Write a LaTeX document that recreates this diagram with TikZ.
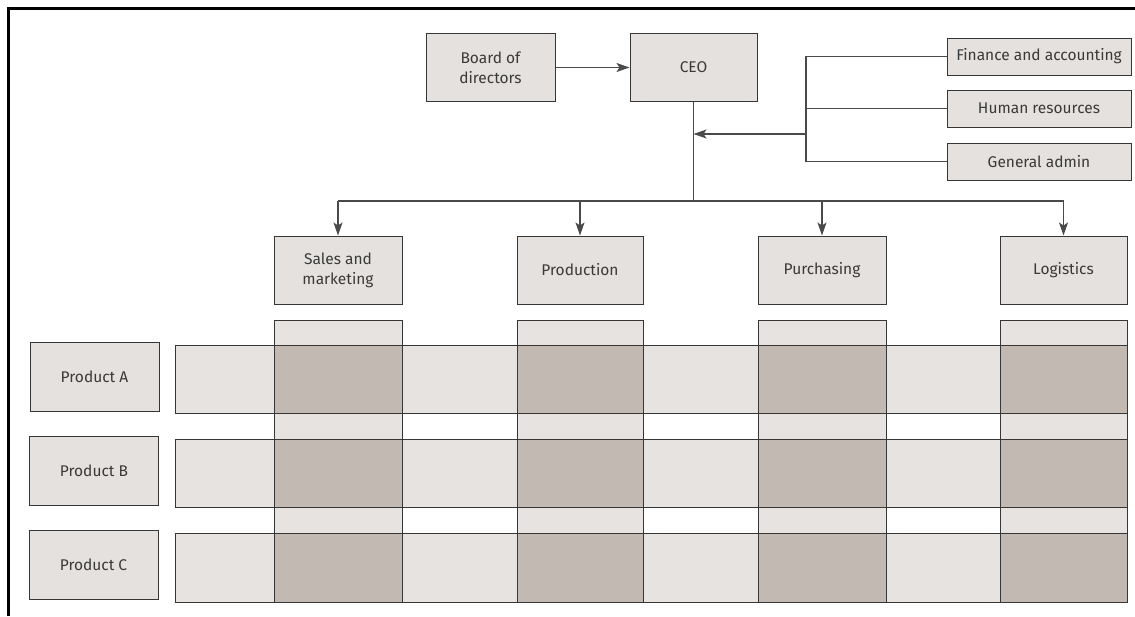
\documentclass[tikz,border=0pt]{standalone}
\usepackage{fontspec}
\setmainfont{Fira Sans}
\usetikzlibrary{arrows.meta}
\definecolor{boxfill}{HTML}{E4E1DE}
\definecolor{darkcell}{HTML}{C2B9B2}
\definecolor{lightcell}{HTML}{E6E3E0}
\definecolor{linec}{HTML}{363636}
\definecolor{txt}{HTML}{3A3A3A}
\definecolor{arrowc}{HTML}{4A4A4A}
\begin{document}
\begin{tikzpicture}[x=1pt,y=-1pt,
  box/.style={draw=linec, fill=boxfill, line width=1pt, inner sep=0pt,
    font=\fontsize{15.5}{20}\selectfont, text=txt, align=center},
  conn/.style={draw=arrowc, line width=1.2pt},
  arr/.style={conn, -{Stealth[length=13pt,width=9pt,inset=3pt]}},
  cell/.style={draw=linec, line width=0.9pt}]
\useasboundingbox (0,0) rectangle (1135,616);
% frame
\draw[line width=3pt, black] (8,616) -- (8,8) -- (1135,8);

% top boxes
\node[box, minimum width=129pt, minimum height=68pt] (board) at (490.5,67.5) {Board of\\directors};
\node[box, minimum width=127pt, minimum height=68pt] (ceo) at (693.5,67.5) {CEO};
\node[box, minimum width=184pt, minimum height=37pt] (fin) at (1039,56.5) {Finance and accounting};
\node[box, minimum width=184pt, minimum height=37pt] (hr) at (1039,108.5) {Human resources};
\node[box, minimum width=184pt, minimum height=37pt] (ga) at (1039,161.5) {General admin};

% departments
\node[box, minimum width=128pt, minimum height=68pt] (sales) at (338,270) {Sales and\\marketing};
\node[box, minimum width=126pt, minimum height=68pt] (prod) at (580,270) {Production};
\node[box, minimum width=128pt, minimum height=68pt] (purch) at (822,270) {Purchasing};
\node[box, minimum width=127pt, minimum height=68pt] (logi) at (1063.5,270) {Logistics};

% connectors
\draw[arr] (board.east) -- (ceo.west);
\coordinate (bus) at (806,134);
\draw[conn] (fin.west) -| (bus);
\draw[conn] (ga.west) -| (bus);
\draw[conn] (hr.west) -- (hr.west -| bus);
\draw[arr] (bus) -- (bus -| ceo.south);
\coordinate (hub) at (ceo.south |- 0,201);
\draw[conn] (ceo.south) -- (hub);
\draw[conn] (sales.north |- hub) -- (logi.north |- hub);
\foreach \d in {sales,prod,purch,logi}
  \draw[arr] (\d.north |- hub) -- (\d.north);

% matrix grid
\foreach \a/\b in {274/402,517/643,758/886,1000/1127}
  \draw[cell, fill=lightcell] (\a,320) rectangle (\b,602);
\foreach \t/\u in {345/413,439/507,533/602}
  \draw[cell, fill=lightcell] (175,\t) rectangle (1127,\u);
\foreach \a/\b in {274/402,517/643,758/886,1000/1127}
  \foreach \t/\u in {345/413,439/507,533/602}
    \draw[cell, fill=darkcell] (\a,\t) rectangle (\b,\u);

% product labels
\node[box, minimum width=129pt, minimum height=69pt] (pa) at (94.5,376.5) {Product A};
\node[box, minimum width=129pt, minimum height=69pt] (pb) at (94,470.5) {Product B};
\node[box, minimum width=129pt, minimum height=69pt] (pc) at (93.5,564.5) {Product C};
\end{tikzpicture}
\end{document}
